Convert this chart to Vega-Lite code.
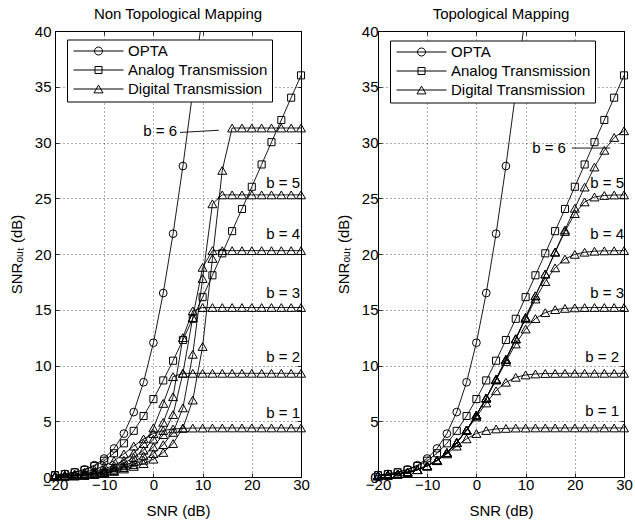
{
  "$schema": "https://vega.github.io/schema/vega-lite/v6.json",
  "padding": {"left": 8, "top": 6, "right": 0, "bottom": 0},
  "background": "white",
  "bounds": "flush",
  "spacing": 77,
  "datasets": {
    "curves": [
      {"p":"B","s":"O","c":"O","x":-20,"y":0.17},{"p":"B","s":"O","c":"O","x":-18,"y":0.27},{"p":"B","s":"O","c":"O","x":-16,"y":0.43},{"p":"B","s":"O","c":"O","x":-14,"y":0.68},{"p":"B","s":"O","c":"O","x":-12,"y":1.06},{"p":"B","s":"O","c":"O","x":-10,"y":1.66},{"p":"B","s":"O","c":"O","x":-8,"y":2.56},{"p":"B","s":"O","c":"O","x":-6,"y":3.89},{"p":"B","s":"O","c":"O","x":-4,"y":5.82},{"p":"B","s":"O","c":"O","x":-2,"y":8.5},{"p":"B","s":"O","c":"O","x":0,"y":12.04},{"p":"B","s":"O","c":"O","x":2,"y":16.5},{"p":"B","s":"O","c":"O","x":4,"y":21.82},{"p":"B","s":"O","c":"O","x":6,"y":27.89},{"p":"B","s":"O","c":"O","x":8,"y":34.56},{"p":"B","s":"O","c":"O","x":10,"y":41.66},
      {"p":"B","s":"A","c":"A","x":-20,"y":0.17},{"p":"B","s":"A","c":"A","x":-18,"y":0.27},{"p":"B","s":"A","c":"A","x":-16,"y":0.42},{"p":"B","s":"A","c":"A","x":-14,"y":0.64},{"p":"B","s":"A","c":"A","x":-12,"y":0.98},{"p":"B","s":"A","c":"A","x":-10,"y":1.46},{"p":"B","s":"A","c":"A","x":-8,"y":2.13},{"p":"B","s":"A","c":"A","x":-6,"y":3.02},{"p":"B","s":"A","c":"A","x":-4,"y":4.14},{"p":"B","s":"A","c":"A","x":-2,"y":5.47},{"p":"B","s":"A","c":"A","x":0,"y":6.99},{"p":"B","s":"A","c":"A","x":2,"y":8.66},{"p":"B","s":"A","c":"A","x":4,"y":10.43},{"p":"B","s":"A","c":"A","x":6,"y":12.29},{"p":"B","s":"A","c":"A","x":8,"y":14.19},{"p":"B","s":"A","c":"A","x":10,"y":16.13},{"p":"B","s":"A","c":"A","x":12,"y":18.09},{"p":"B","s":"A","c":"A","x":14,"y":20.06},{"p":"B","s":"A","c":"A","x":16,"y":22.05},{"p":"B","s":"A","c":"A","x":18,"y":24.04},{"p":"B","s":"A","c":"A","x":20,"y":26.03},{"p":"B","s":"A","c":"A","x":22,"y":28.03},{"p":"B","s":"A","c":"A","x":24,"y":30.03},{"p":"B","s":"A","c":"A","x":26,"y":32.02},{"p":"B","s":"A","c":"A","x":28,"y":34.02},{"p":"B","s":"A","c":"A","x":30,"y":36.02},
      {"p":"B","s":"D","c":"d1","x":-20,"y":0.11},{"p":"B","s":"D","c":"d1","x":-18,"y":0.18},{"p":"B","s":"D","c":"d1","x":-16,"y":0.28},{"p":"B","s":"D","c":"d1","x":-14,"y":0.43},{"p":"B","s":"D","c":"d1","x":-12,"y":0.66},{"p":"B","s":"D","c":"d1","x":-10,"y":1.0},{"p":"B","s":"D","c":"d1","x":-8,"y":1.46},{"p":"B","s":"D","c":"d1","x":-6,"y":2.07},{"p":"B","s":"D","c":"d1","x":-4,"y":2.77},{"p":"B","s":"D","c":"d1","x":-2,"y":3.42},{"p":"B","s":"D","c":"d1","x":0,"y":3.9},{"p":"B","s":"D","c":"d1","x":2,"y":4.17},{"p":"B","s":"D","c":"d1","x":4,"y":4.31},{"p":"B","s":"D","c":"d1","x":6,"y":4.36},{"p":"B","s":"D","c":"d1","x":8,"y":4.39},{"p":"B","s":"D","c":"d1","x":10,"y":4.39},{"p":"B","s":"D","c":"d1","x":12,"y":4.4},{"p":"B","s":"D","c":"d1","x":14,"y":4.4},{"p":"B","s":"D","c":"d1","x":16,"y":4.4},{"p":"B","s":"D","c":"d1","x":18,"y":4.4},{"p":"B","s":"D","c":"d1","x":20,"y":4.4},{"p":"B","s":"D","c":"d1","x":22,"y":4.4},{"p":"B","s":"D","c":"d1","x":24,"y":4.4},{"p":"B","s":"D","c":"d1","x":26,"y":4.4},{"p":"B","s":"D","c":"d1","x":28,"y":4.4},{"p":"B","s":"D","c":"d1","x":30,"y":4.4},

      {"p":"L","s":"D","c":"d2","x":-20,"y":0.09},{"p":"L","s":"D","c":"d2","x":-18,"y":0.13},{"p":"L","s":"D","c":"d2","x":-16,"y":0.2},{"p":"L","s":"D","c":"d2","x":-14,"y":0.31},{"p":"L","s":"D","c":"d2","x":-12,"y":0.47},{"p":"L","s":"D","c":"d2","x":-10,"y":0.71},{"p":"L","s":"D","c":"d2","x":-8,"y":1.05},{"p":"L","s":"D","c":"d2","x":-6,"y":1.5},{"p":"L","s":"D","c":"d2","x":-4,"y":2.15},{"p":"L","s":"D","c":"d2","x":-2,"y":3.0},{"p":"L","s":"D","c":"d2","x":0,"y":4.4},{"p":"L","s":"D","c":"d2","x":2,"y":6.6},{"p":"L","s":"D","c":"d2","x":4,"y":9.0},{"p":"L","s":"D","c":"d2","x":6,"y":9.3},{"p":"L","s":"D","c":"d2","x":8,"y":9.3},{"p":"L","s":"D","c":"d2","x":10,"y":9.3},{"p":"L","s":"D","c":"d2","x":12,"y":9.3},{"p":"L","s":"D","c":"d2","x":14,"y":9.3},{"p":"L","s":"D","c":"d2","x":16,"y":9.3},{"p":"L","s":"D","c":"d2","x":18,"y":9.3},{"p":"L","s":"D","c":"d2","x":20,"y":9.3},{"p":"L","s":"D","c":"d2","x":22,"y":9.3},{"p":"L","s":"D","c":"d2","x":24,"y":9.3},{"p":"L","s":"D","c":"d2","x":26,"y":9.3},{"p":"L","s":"D","c":"d2","x":28,"y":9.3},{"p":"L","s":"D","c":"d2","x":30,"y":9.3},
      {"p":"L","s":"D","c":"d3","x":-20,"y":0.07},{"p":"L","s":"D","c":"d3","x":-18,"y":0.11},{"p":"L","s":"D","c":"d3","x":-16,"y":0.16},{"p":"L","s":"D","c":"d3","x":-14,"y":0.25},{"p":"L","s":"D","c":"d3","x":-12,"y":0.38},{"p":"L","s":"D","c":"d3","x":-10,"y":0.57},{"p":"L","s":"D","c":"d3","x":-8,"y":0.85},{"p":"L","s":"D","c":"d3","x":-6,"y":1.25},{"p":"L","s":"D","c":"d3","x":-4,"y":1.75},{"p":"L","s":"D","c":"d3","x":-2,"y":2.4},{"p":"L","s":"D","c":"d3","x":0,"y":3.4},{"p":"L","s":"D","c":"d3","x":2,"y":4.9},{"p":"L","s":"D","c":"d3","x":4,"y":7.2},{"p":"L","s":"D","c":"d3","x":6,"y":12.5},{"p":"L","s":"D","c":"d3","x":8,"y":14.9},{"p":"L","s":"D","c":"d3","x":10,"y":15.2},{"p":"L","s":"D","c":"d3","x":12,"y":15.2},{"p":"L","s":"D","c":"d3","x":14,"y":15.2},{"p":"L","s":"D","c":"d3","x":16,"y":15.2},{"p":"L","s":"D","c":"d3","x":18,"y":15.2},{"p":"L","s":"D","c":"d3","x":20,"y":15.2},{"p":"L","s":"D","c":"d3","x":22,"y":15.2},{"p":"L","s":"D","c":"d3","x":24,"y":15.2},{"p":"L","s":"D","c":"d3","x":26,"y":15.2},{"p":"L","s":"D","c":"d3","x":28,"y":15.2},{"p":"L","s":"D","c":"d3","x":30,"y":15.2},
      {"p":"L","s":"D","c":"d4","x":-20,"y":0.06},{"p":"L","s":"D","c":"d4","x":-18,"y":0.09},{"p":"L","s":"D","c":"d4","x":-16,"y":0.13},{"p":"L","s":"D","c":"d4","x":-14,"y":0.2},{"p":"L","s":"D","c":"d4","x":-12,"y":0.31},{"p":"L","s":"D","c":"d4","x":-10,"y":0.47},{"p":"L","s":"D","c":"d4","x":-8,"y":0.7},{"p":"L","s":"D","c":"d4","x":-6,"y":1.0},{"p":"L","s":"D","c":"d4","x":-4,"y":1.38},{"p":"L","s":"D","c":"d4","x":-2,"y":1.9},{"p":"L","s":"D","c":"d4","x":0,"y":2.7},{"p":"L","s":"D","c":"d4","x":2,"y":3.8},{"p":"L","s":"D","c":"d4","x":4,"y":5.6},{"p":"L","s":"D","c":"d4","x":6,"y":9.3},{"p":"L","s":"D","c":"d4","x":8,"y":14.3},{"p":"L","s":"D","c":"d4","x":10,"y":18.8},{"p":"L","s":"D","c":"d4","x":12,"y":20.3},{"p":"L","s":"D","c":"d4","x":14,"y":20.3},{"p":"L","s":"D","c":"d4","x":16,"y":20.3},{"p":"L","s":"D","c":"d4","x":18,"y":20.3},{"p":"L","s":"D","c":"d4","x":20,"y":20.3},{"p":"L","s":"D","c":"d4","x":22,"y":20.3},{"p":"L","s":"D","c":"d4","x":24,"y":20.3},{"p":"L","s":"D","c":"d4","x":26,"y":20.3},{"p":"L","s":"D","c":"d4","x":28,"y":20.3},{"p":"L","s":"D","c":"d4","x":30,"y":20.3},
      {"p":"L","s":"D","c":"d5","x":-20,"y":0.05},{"p":"L","s":"D","c":"d5","x":-18,"y":0.07},{"p":"L","s":"D","c":"d5","x":-16,"y":0.11},{"p":"L","s":"D","c":"d5","x":-14,"y":0.17},{"p":"L","s":"D","c":"d5","x":-12,"y":0.26},{"p":"L","s":"D","c":"d5","x":-10,"y":0.39},{"p":"L","s":"D","c":"d5","x":-8,"y":0.58},{"p":"L","s":"D","c":"d5","x":-6,"y":0.84},{"p":"L","s":"D","c":"d5","x":-4,"y":1.12},{"p":"L","s":"D","c":"d5","x":-2,"y":1.5},{"p":"L","s":"D","c":"d5","x":0,"y":2.1},{"p":"L","s":"D","c":"d5","x":2,"y":2.9},{"p":"L","s":"D","c":"d5","x":4,"y":4.0},{"p":"L","s":"D","c":"d5","x":6,"y":6.2},{"p":"L","s":"D","c":"d5","x":8,"y":11.0},{"p":"L","s":"D","c":"d5","x":10,"y":17.8},{"p":"L","s":"D","c":"d5","x":12,"y":24.5},{"p":"L","s":"D","c":"d5","x":14,"y":25.3},{"p":"L","s":"D","c":"d5","x":16,"y":25.3},{"p":"L","s":"D","c":"d5","x":18,"y":25.3},{"p":"L","s":"D","c":"d5","x":20,"y":25.3},{"p":"L","s":"D","c":"d5","x":22,"y":25.3},{"p":"L","s":"D","c":"d5","x":24,"y":25.3},{"p":"L","s":"D","c":"d5","x":26,"y":25.3},{"p":"L","s":"D","c":"d5","x":28,"y":25.3},{"p":"L","s":"D","c":"d5","x":30,"y":25.3},
      {"p":"L","s":"D","c":"d6","x":-20,"y":0.04},{"p":"L","s":"D","c":"d6","x":-18,"y":0.06},{"p":"L","s":"D","c":"d6","x":-16,"y":0.09},{"p":"L","s":"D","c":"d6","x":-14,"y":0.14},{"p":"L","s":"D","c":"d6","x":-12,"y":0.22},{"p":"L","s":"D","c":"d6","x":-10,"y":0.33},{"p":"L","s":"D","c":"d6","x":-8,"y":0.5},{"p":"L","s":"D","c":"d6","x":-6,"y":0.72},{"p":"L","s":"D","c":"d6","x":-4,"y":0.95},{"p":"L","s":"D","c":"d6","x":-2,"y":1.2},{"p":"L","s":"D","c":"d6","x":0,"y":1.6},{"p":"L","s":"D","c":"d6","x":2,"y":2.2},{"p":"L","s":"D","c":"d6","x":4,"y":3.0},{"p":"L","s":"D","c":"d6","x":6,"y":4.4},{"p":"L","s":"D","c":"d6","x":8,"y":6.9},{"p":"L","s":"D","c":"d6","x":10,"y":11.7},{"p":"L","s":"D","c":"d6","x":12,"y":19.6},{"p":"L","s":"D","c":"d6","x":14,"y":27.5},{"p":"L","s":"D","c":"d6","x":16,"y":31.3},{"p":"L","s":"D","c":"d6","x":18,"y":31.3},{"p":"L","s":"D","c":"d6","x":20,"y":31.3},{"p":"L","s":"D","c":"d6","x":22,"y":31.3},{"p":"L","s":"D","c":"d6","x":24,"y":31.3},{"p":"L","s":"D","c":"d6","x":26,"y":31.3},{"p":"L","s":"D","c":"d6","x":28,"y":31.3},{"p":"L","s":"D","c":"d6","x":30,"y":31.3},

      {"p":"R","s":"D","c":"d2","x":-20,"y":0.11},{"p":"R","s":"D","c":"d2","x":-18,"y":0.18},{"p":"R","s":"D","c":"d2","x":-16,"y":0.27},{"p":"R","s":"D","c":"d2","x":-14,"y":0.43},{"p":"R","s":"D","c":"d2","x":-12,"y":0.66},{"p":"R","s":"D","c":"d2","x":-10,"y":1.0},{"p":"R","s":"D","c":"d2","x":-8,"y":1.5},{"p":"R","s":"D","c":"d2","x":-6,"y":2.18},{"p":"R","s":"D","c":"d2","x":-4,"y":3.07},{"p":"R","s":"D","c":"d2","x":-2,"y":4.16},{"p":"R","s":"D","c":"d2","x":0,"y":5.39},{"p":"R","s":"D","c":"d2","x":2,"y":6.64},{"p":"R","s":"D","c":"d2","x":4,"y":7.73},{"p":"R","s":"D","c":"d2","x":6,"y":8.5},{"p":"R","s":"D","c":"d2","x":8,"y":8.94},{"p":"R","s":"D","c":"d2","x":10,"y":9.15},{"p":"R","s":"D","c":"d2","x":12,"y":9.24},{"p":"R","s":"D","c":"d2","x":14,"y":9.28},{"p":"R","s":"D","c":"d2","x":16,"y":9.29},{"p":"R","s":"D","c":"d2","x":18,"y":9.3},{"p":"R","s":"D","c":"d2","x":20,"y":9.3},{"p":"R","s":"D","c":"d2","x":22,"y":9.3},{"p":"R","s":"D","c":"d2","x":24,"y":9.3},{"p":"R","s":"D","c":"d2","x":26,"y":9.3},{"p":"R","s":"D","c":"d2","x":28,"y":9.3},{"p":"R","s":"D","c":"d2","x":30,"y":9.3},
      {"p":"R","s":"D","c":"d3","x":-20,"y":0.11},{"p":"R","s":"D","c":"d3","x":-18,"y":0.18},{"p":"R","s":"D","c":"d3","x":-16,"y":0.27},{"p":"R","s":"D","c":"d3","x":-14,"y":0.43},{"p":"R","s":"D","c":"d3","x":-12,"y":0.66},{"p":"R","s":"D","c":"d3","x":-10,"y":1.0},{"p":"R","s":"D","c":"d3","x":-8,"y":1.5},{"p":"R","s":"D","c":"d3","x":-6,"y":2.18},{"p":"R","s":"D","c":"d3","x":-4,"y":3.09},{"p":"R","s":"D","c":"d3","x":-2,"y":4.21},{"p":"R","s":"D","c":"d3","x":0,"y":5.55},{"p":"R","s":"D","c":"d3","x":2,"y":7.07},{"p":"R","s":"D","c":"d3","x":4,"y":8.69},{"p":"R","s":"D","c":"d3","x":6,"y":10.36},{"p":"R","s":"D","c":"d3","x":8,"y":11.93},{"p":"R","s":"D","c":"d3","x":10,"y":13.27},{"p":"R","s":"D","c":"d3","x":12,"y":14.21},{"p":"R","s":"D","c":"d3","x":14,"y":14.74},{"p":"R","s":"D","c":"d3","x":16,"y":15.01},{"p":"R","s":"D","c":"d3","x":18,"y":15.12},{"p":"R","s":"D","c":"d3","x":20,"y":15.17},{"p":"R","s":"D","c":"d3","x":22,"y":15.19},{"p":"R","s":"D","c":"d3","x":24,"y":15.2},{"p":"R","s":"D","c":"d3","x":26,"y":15.2},{"p":"R","s":"D","c":"d3","x":28,"y":15.2},{"p":"R","s":"D","c":"d3","x":30,"y":15.2},
      {"p":"R","s":"D","c":"d4","x":-20,"y":0.11},{"p":"R","s":"D","c":"d4","x":-18,"y":0.18},{"p":"R","s":"D","c":"d4","x":-16,"y":0.27},{"p":"R","s":"D","c":"d4","x":-14,"y":0.43},{"p":"R","s":"D","c":"d4","x":-12,"y":0.66},{"p":"R","s":"D","c":"d4","x":-10,"y":1.0},{"p":"R","s":"D","c":"d4","x":-8,"y":1.5},{"p":"R","s":"D","c":"d4","x":-6,"y":2.18},{"p":"R","s":"D","c":"d4","x":-4,"y":3.09},{"p":"R","s":"D","c":"d4","x":-2,"y":4.22},{"p":"R","s":"D","c":"d4","x":0,"y":5.56},{"p":"R","s":"D","c":"d4","x":2,"y":7.09},{"p":"R","s":"D","c":"d4","x":4,"y":8.76},{"p":"R","s":"D","c":"d4","x":6,"y":10.53},{"p":"R","s":"D","c":"d4","x":8,"y":12.36},{"p":"R","s":"D","c":"d4","x":10,"y":14.19},{"p":"R","s":"D","c":"d4","x":12,"y":15.96},{"p":"R","s":"D","c":"d4","x":14,"y":17.53},{"p":"R","s":"D","c":"d4","x":16,"y":18.76},{"p":"R","s":"D","c":"d4","x":18,"y":19.55},{"p":"R","s":"D","c":"d4","x":20,"y":19.97},{"p":"R","s":"D","c":"d4","x":22,"y":20.16},{"p":"R","s":"D","c":"d4","x":24,"y":20.25},{"p":"R","s":"D","c":"d4","x":26,"y":20.28},{"p":"R","s":"D","c":"d4","x":28,"y":20.29},{"p":"R","s":"D","c":"d4","x":30,"y":20.3},
      {"p":"R","s":"D","c":"d5","x":-20,"y":0.11},{"p":"R","s":"D","c":"d5","x":-18,"y":0.18},{"p":"R","s":"D","c":"d5","x":-16,"y":0.27},{"p":"R","s":"D","c":"d5","x":-14,"y":0.43},{"p":"R","s":"D","c":"d5","x":-12,"y":0.66},{"p":"R","s":"D","c":"d5","x":-10,"y":1.0},{"p":"R","s":"D","c":"d5","x":-8,"y":1.5},{"p":"R","s":"D","c":"d5","x":-6,"y":2.18},{"p":"R","s":"D","c":"d5","x":-4,"y":3.09},{"p":"R","s":"D","c":"d5","x":-2,"y":4.22},{"p":"R","s":"D","c":"d5","x":0,"y":5.56},{"p":"R","s":"D","c":"d5","x":2,"y":7.09},{"p":"R","s":"D","c":"d5","x":4,"y":8.77},{"p":"R","s":"D","c":"d5","x":6,"y":10.55},{"p":"R","s":"D","c":"d5","x":8,"y":12.4},{"p":"R","s":"D","c":"d5","x":10,"y":14.31},{"p":"R","s":"D","c":"d5","x":12,"y":16.25},{"p":"R","s":"D","c":"d5","x":14,"y":18.21},{"p":"R","s":"D","c":"d5","x":16,"y":20.15},{"p":"R","s":"D","c":"d5","x":18,"y":22.02},{"p":"R","s":"D","c":"d5","x":20,"y":23.62},{"p":"R","s":"D","c":"d5","x":22,"y":24.67},{"p":"R","s":"D","c":"d5","x":24,"y":25.11},{"p":"R","s":"D","c":"d5","x":26,"y":25.25},{"p":"R","s":"D","c":"d5","x":28,"y":25.29},{"p":"R","s":"D","c":"d5","x":30,"y":25.3},
      {"p":"R","s":"D","c":"d6","x":-20,"y":0.11},{"p":"R","s":"D","c":"d6","x":-18,"y":0.18},{"p":"R","s":"D","c":"d6","x":-16,"y":0.27},{"p":"R","s":"D","c":"d6","x":-14,"y":0.43},{"p":"R","s":"D","c":"d6","x":-12,"y":0.66},{"p":"R","s":"D","c":"d6","x":-10,"y":1.0},{"p":"R","s":"D","c":"d6","x":-8,"y":1.5},{"p":"R","s":"D","c":"d6","x":-6,"y":2.18},{"p":"R","s":"D","c":"d6","x":-4,"y":3.09},{"p":"R","s":"D","c":"d6","x":-2,"y":4.22},{"p":"R","s":"D","c":"d6","x":0,"y":5.56},{"p":"R","s":"D","c":"d6","x":2,"y":7.09},{"p":"R","s":"D","c":"d6","x":4,"y":8.77},{"p":"R","s":"D","c":"d6","x":6,"y":10.55},{"p":"R","s":"D","c":"d6","x":8,"y":12.41},{"p":"R","s":"D","c":"d6","x":10,"y":14.31},{"p":"R","s":"D","c":"d6","x":12,"y":16.25},{"p":"R","s":"D","c":"d6","x":14,"y":18.21},{"p":"R","s":"D","c":"d6","x":16,"y":20.19},{"p":"R","s":"D","c":"d6","x":18,"y":22.16},{"p":"R","s":"D","c":"d6","x":20,"y":24.1},{"p":"R","s":"D","c":"d6","x":22,"y":26.0},{"p":"R","s":"D","c":"d6","x":24,"y":27.8},{"p":"R","s":"D","c":"d6","x":26,"y":29.3},{"p":"R","s":"D","c":"d6","x":28,"y":30.45},{"p":"R","s":"D","c":"d6","x":30,"y":31.05}
    ],
    "labels": [
      {"p":"L","t":"b = 6","x":4.8,"y":31.0},{"p":"L","t":"b = 5","x":29.8,"y":26.4},{"p":"L","t":"b = 4","x":29.8,"y":21.8},{"p":"L","t":"b = 3","x":29.8,"y":16.5},{"p":"L","t":"b = 2","x":29.8,"y":10.75},{"p":"L","t":"b = 1","x":29.8,"y":5.7},
      {"p":"R","t":"b = 6","x":18.2,"y":29.5},{"p":"R","t":"b = 5","x":30.0,"y":26.4},{"p":"R","t":"b = 4","x":30.0,"y":21.8},{"p":"R","t":"b = 3","x":30.0,"y":16.5},{"p":"R","t":"b = 2","x":29.0,"y":10.75},{"p":"R","t":"b = 1","x":29.0,"y":5.9}
    ],
    "leaders": [
      {"p":"L","x1":5.4,"y1":30.9,"x2":13.3,"y2":31.1},
      {"p":"R","x1":19.4,"y1":29.5,"x2":27.2,"y2":29.5}
    ]
  },
  "hconcat": [
    {
      "width": 246, "height": 446,
      "title": {"text": "Non Topological Mapping"},
      "layer": [
        {
          "data": {"name": "curves"},
          "transform": [{"filter": "datum.p != 'R'"}],
          "mark": {"type": "line", "color": "black", "strokeWidth": 0.9, "clip": true},
          "encoding": {
            "x": {"field": "x", "type": "quantitative", "scale": {"domain": [-20, 30], "nice": false, "zero": false},
                  "axis": {"orient": "bottom", "values": [-20, -10, 0, 10, 20, 30], "grid": true, "gridColor": "#000", "gridDash": [1, 3], "gridWidth": 0.8, "gridOpacity": 0.8, "title": "SNR (dB)", "titlePadding": 11, "labelPadding": 4}},
            "y": {"field": "y", "type": "quantitative", "scale": {"domain": [0, 40], "nice": false},
                  "axis": {"orient": "left", "values": [0, 5, 10, 15, 20, 25, 30, 35, 40], "grid": true, "gridColor": "#000", "gridDash": [1, 3], "gridWidth": 0.8, "gridOpacity": 0.8, "title": "SNRₒᵤₜ (dB)", "titlePadding": 10, "labelPadding": 8}},
            "detail": {"field": "c"}
          }
        },
        {
          "data": {"name": "curves"},
          "transform": [{"filter": "datum.p != 'R' && datum.s == 'O' && datum.y <= 40"}],
          "mark": {"type": "point", "shape": "circle", "filled": false, "color": "black", "strokeWidth": 1, "opacity": 1, "size": 60},
          "encoding": {
            "x": {"field": "x", "type": "quantitative", "scale": {"domain": [-20, 30], "nice": false, "zero": false}, "axis": null},
            "y": {"field": "y", "type": "quantitative", "scale": {"domain": [0, 40], "nice": false}, "axis": null}
          }
        },
        {
          "data": {"name": "curves"},
          "transform": [{"filter": "datum.p != 'R' && datum.s == 'A'"}],
          "mark": {"type": "point", "shape": "square", "filled": false, "color": "black", "strokeWidth": 1, "opacity": 1, "size": 50},
          "encoding": {
            "x": {"field": "x", "type": "quantitative", "scale": {"domain": [-20, 30], "nice": false, "zero": false}, "axis": null},
            "y": {"field": "y", "type": "quantitative", "scale": {"domain": [0, 40], "nice": false}, "axis": null}
          }
        },
        {
          "data": {"name": "curves"},
          "transform": [{"filter": "datum.p != 'R' && datum.s == 'D'"}],
          "mark": {"type": "point", "shape": "triangle-up", "filled": false, "color": "black", "strokeWidth": 1, "opacity": 1, "size": 81},
          "encoding": {
            "x": {"field": "x", "type": "quantitative", "scale": {"domain": [-20, 30], "nice": false, "zero": false}, "axis": null},
            "y": {"field": "y", "type": "quantitative", "scale": {"domain": [0, 40], "nice": false}, "axis": null}
          }
        },
        {
          "data": {"name": "curves"},
          "transform": [{"filter": "datum.p == 'B' && datum.x == -20"}],
          "mark": {"type": "point", "filled": false, "color": "black", "opacity": 0},
          "encoding": {
            "x": {"field": "x", "type": "quantitative", "scale": {"domain": [-20, 30], "nice": false, "zero": false}, "axis": null},
            "y": {"field": "y", "type": "quantitative", "scale": {"domain": [0, 40], "nice": false}, "axis": null},
            "shape": {"field": "s", "type": "nominal",
              "scale": {"domain": ["O", "A", "D"], "range": ["M -6.25 0 L 6.25 0 M 1 0 A 1 1 0 1 1 -1 0 A 1 1 0 1 1 1 0", "M -6.25 0 L 6.25 0 M -0.875 -0.875 L 0.875 -0.875 L 0.875 0.875 L -0.875 0.875 Z", "M -6.25 0 L 6.25 0 M 0 -0.975 L 1.125 0.975 L -1.125 0.975 Z"]},
              "legend": {"title": null, "orient": "none", "legendX": 12, "legendY": 8.5, "strokeColor": "black", "fillColor": "white", "padding": 4, "symbolOffset": 20, "labelOffset": 22, "rowPadding": 3, "labelFont": "Liberation Sans", "labelFontSize": 15, "labelColor": "black", "symbolSize": 64, "symbolStrokeColor": "black", "symbolStrokeWidth": 1, "symbolFillColor": "transparent", "symbolOpacity": 1,
                "labelExpr": "datum.value == 'O' ? 'OPTA' : datum.value == 'A' ? 'Analog Transmission' : 'Digital Transmission'",
                "encode": {"legend": {"update": {"strokeWidth": {"value": 1.5}}}}}}
          }
        },
        {
          "data": {"name": "leaders"},
          "transform": [{"filter": "datum.p == 'L'"}],
          "mark": {"type": "rule", "color": "black", "strokeWidth": 0.9},
          "encoding": {
            "x": {"field": "x1", "type": "quantitative", "scale": {"domain": [-20, 30], "nice": false, "zero": false}, "axis": null},
            "y": {"field": "y1", "type": "quantitative", "scale": {"domain": [0, 40], "nice": false}, "axis": null},
            "x2": {"field": "x2"}, "y2": {"field": "y2"}
          }
        },
        {
          "data": {"name": "labels"},
          "transform": [{"filter": "datum.p == 'L'"}],
          "mark": {"type": "text", "align": "right", "baseline": "middle", "fontSize": 15, "font": "Liberation Sans", "color": "black"},
          "encoding": {
            "x": {"field": "x", "type": "quantitative", "scale": {"domain": [-20, 30], "nice": false, "zero": false}, "axis": null},
            "y": {"field": "y", "type": "quantitative", "scale": {"domain": [0, 40], "nice": false}, "axis": null},
            "text": {"field": "t"}
          }
        },
        {
          "data": {"values": [{}]},
          "mark": {"type": "point", "opacity": 0},
          "encoding": {
            "x": {"datum": 0, "type": "quantitative", "scale": {"domain": [-20, 30], "nice": false, "zero": false},
                  "axis": {"orient": "top", "values": [-20, -10, 0, 10, 20, 30], "labels": false, "grid": false, "title": null}},
            "y": {"datum": 0, "type": "quantitative", "scale": {"domain": [0, 40], "nice": false},
                  "axis": {"orient": "right", "values": [0, 5, 10, 15, 20, 25, 30, 35, 40], "labels": false, "grid": false, "title": null}}
          }
        }
      ],
      "resolve": {"axis": {"x": "independent", "y": "independent"}}
    },
    {
      "width": 246, "height": 446,
      "title": {"text": "Topological Mapping"},
      "layer": [
        {
          "data": {"name": "curves"},
          "transform": [{"filter": "datum.p != 'L'"}],
          "mark": {"type": "line", "color": "black", "strokeWidth": 0.9, "clip": true},
          "encoding": {
            "x": {"field": "x", "type": "quantitative", "scale": {"domain": [-20, 30], "nice": false, "zero": false},
                  "axis": {"orient": "bottom", "values": [-20, -10, 0, 10, 20, 30], "grid": true, "gridColor": "#000", "gridDash": [1, 3], "gridWidth": 0.8, "gridOpacity": 0.8, "title": "SNR (dB)", "titlePadding": 11, "labelPadding": 4}},
            "y": {"field": "y", "type": "quantitative", "scale": {"domain": [0, 40], "nice": false},
                  "axis": {"orient": "left", "values": [0, 5, 10, 15, 20, 25, 30, 35, 40], "grid": true, "gridColor": "#000", "gridDash": [1, 3], "gridWidth": 0.8, "gridOpacity": 0.8, "title": "SNRₒᵤₜ (dB)", "titlePadding": 10, "labelPadding": 4}},
            "detail": {"field": "c"}
          }
        },
        {
          "data": {"name": "curves"},
          "transform": [{"filter": "datum.p != 'L' && datum.s == 'O' && datum.y <= 40"}],
          "mark": {"type": "point", "shape": "circle", "filled": false, "color": "black", "strokeWidth": 1, "opacity": 1, "size": 60},
          "encoding": {
            "x": {"field": "x", "type": "quantitative", "scale": {"domain": [-20, 30], "nice": false, "zero": false}, "axis": null},
            "y": {"field": "y", "type": "quantitative", "scale": {"domain": [0, 40], "nice": false}, "axis": null}
          }
        },
        {
          "data": {"name": "curves"},
          "transform": [{"filter": "datum.p != 'L' && datum.s == 'A'"}],
          "mark": {"type": "point", "shape": "square", "filled": false, "color": "black", "strokeWidth": 1, "opacity": 1, "size": 50},
          "encoding": {
            "x": {"field": "x", "type": "quantitative", "scale": {"domain": [-20, 30], "nice": false, "zero": false}, "axis": null},
            "y": {"field": "y", "type": "quantitative", "scale": {"domain": [0, 40], "nice": false}, "axis": null}
          }
        },
        {
          "data": {"name": "curves"},
          "transform": [{"filter": "datum.p != 'L' && datum.s == 'D'"}],
          "mark": {"type": "point", "shape": "triangle-up", "filled": false, "color": "black", "strokeWidth": 1, "opacity": 1, "size": 81},
          "encoding": {
            "x": {"field": "x", "type": "quantitative", "scale": {"domain": [-20, 30], "nice": false, "zero": false}, "axis": null},
            "y": {"field": "y", "type": "quantitative", "scale": {"domain": [0, 40], "nice": false}, "axis": null}
          }
        },
        {
          "data": {"name": "curves"},
          "transform": [{"filter": "datum.p == 'B' && datum.x == -20"}],
          "mark": {"type": "point", "filled": false, "color": "black", "opacity": 0},
          "encoding": {
            "x": {"field": "x", "type": "quantitative", "scale": {"domain": [-20, 30], "nice": false, "zero": false}, "axis": null},
            "y": {"field": "y", "type": "quantitative", "scale": {"domain": [0, 40], "nice": false}, "axis": null},
            "shape": {"field": "s", "type": "nominal",
              "scale": {"domain": ["O", "A", "D"], "range": ["M -6.25 0 L 6.25 0 M 1 0 A 1 1 0 1 1 -1 0 A 1 1 0 1 1 1 0", "M -6.25 0 L 6.25 0 M -0.875 -0.875 L 0.875 -0.875 L 0.875 0.875 L -0.875 0.875 Z", "M -6.25 0 L 6.25 0 M 0 -0.975 L 1.125 0.975 L -1.125 0.975 Z"]},
              "legend": {"title": null, "orient": "none", "legendX": 12, "legendY": 9.5, "strokeColor": "black", "fillColor": "white", "padding": 4, "symbolOffset": 20, "labelOffset": 22, "rowPadding": 3, "labelFont": "Liberation Sans", "labelFontSize": 15, "labelColor": "black", "symbolSize": 64, "symbolStrokeColor": "black", "symbolStrokeWidth": 1, "symbolFillColor": "transparent", "symbolOpacity": 1,
                "labelExpr": "datum.value == 'O' ? 'OPTA' : datum.value == 'A' ? 'Analog Transmission' : 'Digital Transmission'",
                "encode": {"legend": {"update": {"strokeWidth": {"value": 1.5}}}}}}
          }
        },
        {
          "data": {"name": "leaders"},
          "transform": [{"filter": "datum.p == 'R'"}],
          "mark": {"type": "rule", "color": "black", "strokeWidth": 0.9},
          "encoding": {
            "x": {"field": "x1", "type": "quantitative", "scale": {"domain": [-20, 30], "nice": false, "zero": false}, "axis": null},
            "y": {"field": "y1", "type": "quantitative", "scale": {"domain": [0, 40], "nice": false}, "axis": null},
            "x2": {"field": "x2"}, "y2": {"field": "y2"}
          }
        },
        {
          "data": {"name": "labels"},
          "transform": [{"filter": "datum.p == 'R'"}],
          "mark": {"type": "text", "align": "right", "baseline": "middle", "fontSize": 15, "font": "Liberation Sans", "color": "black"},
          "encoding": {
            "x": {"field": "x", "type": "quantitative", "scale": {"domain": [-20, 30], "nice": false, "zero": false}, "axis": null},
            "y": {"field": "y", "type": "quantitative", "scale": {"domain": [0, 40], "nice": false}, "axis": null},
            "text": {"field": "t"}
          }
        },
        {
          "data": {"values": [{}]},
          "mark": {"type": "point", "opacity": 0},
          "encoding": {
            "x": {"datum": 0, "type": "quantitative", "scale": {"domain": [-20, 30], "nice": false, "zero": false},
                  "axis": {"orient": "top", "values": [-20, -10, 0, 10, 20, 30], "labels": false, "grid": false, "title": null}},
            "y": {"datum": 0, "type": "quantitative", "scale": {"domain": [0, 40], "nice": false},
                  "axis": {"orient": "right", "values": [0, 5, 10, 15, 20, 25, 30, 35, 40], "labels": false, "grid": false, "title": null}}
          }
        }
      ],
      "resolve": {"axis": {"x": "independent", "y": "independent"}}
    }
  ],
  "resolve": {"scale": {"shape": "independent"}, "legend": {"shape": "independent"}},
  "config": {
    "font": "Liberation Sans",
    "view": {"stroke": "black", "strokeWidth": 1},
    "title": {"fontSize": 15, "fontWeight": "normal", "font": "Liberation Sans", "color": "black", "offset": 2, "baseline": "alphabetic", "anchor": "middle"},
    "axis": {"labelFont": "Liberation Sans", "labelFontSize": 15, "labelColor": "black", "titleFont": "Liberation Sans", "titleFontSize": 15, "titleFontWeight": "normal", "titleColor": "black", "domain": false, "ticks": true, "tickColor": "black", "tickWidth": 0.8, "tickSize": -4, "labelFlush": false, "labelOverlap": false}
  }
}
